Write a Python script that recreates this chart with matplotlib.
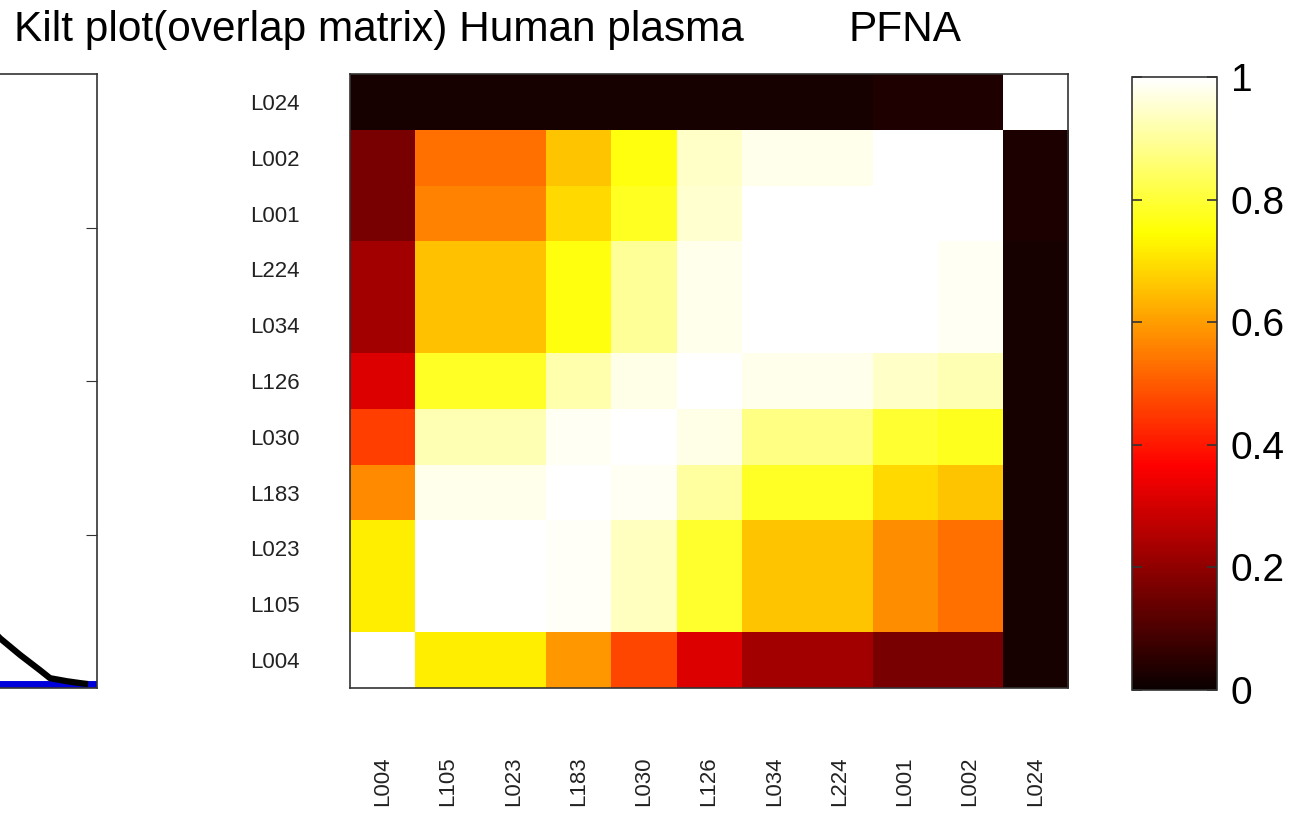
import numpy as np
import matplotlib
matplotlib.use("Agg")
import matplotlib.pyplot as plt

# ---------------- data ----------------
x_labels = ["L004", "L105", "L023", "L183", "L030", "L126", "L034", "L224", "L001", "L002", "L024"]
y_labels = ["L024", "L002", "L001", "L224", "L034", "L126", "L030", "L183", "L023", "L105", "L004"]  # top -> bottom

row_L024 = [0.02, 0.02, 0.02, 0.02, 0.02, 0.02, 0.02, 0.02, 0.035, 0.035, 1.00]
row_L002 = [0.165, 0.535, 0.535, 0.66, 0.76, 0.945, 0.98, 0.98, 1.00, 1.00, 0.03]
row_L001 = [0.165, 0.56, 0.56, 0.69, 0.78, 0.95, 1.00, 1.00, 1.00, 1.00, 0.03]
row_L224 = [0.23, 0.655, 0.655, 0.76, 0.895, 0.98, 1.00, 1.00, 1.00, 0.985, 0.02]
row_L034 = [0.23, 0.655, 0.655, 0.76, 0.895, 0.98, 1.00, 1.00, 1.00, 0.985, 0.02]
row_L126 = [0.315, 0.785, 0.785, 0.915, 0.975, 1.00, 0.98, 0.98, 0.945, 0.925, 0.02]
row_L030 = [0.46, 0.925, 0.925, 0.985, 1.00, 0.975, 0.876, 0.876, 0.795, 0.776, 0.02]
row_L183 = [0.574, 0.98, 0.98, 1.00, 0.985, 0.905, 0.785, 0.785, 0.69, 0.66, 0.02]
row_L023 = [0.72, 1.00, 1.00, 0.99, 0.935, 0.79, 0.66, 0.66, 0.575, 0.535, 0.02]
row_L105 = [0.72, 1.00, 1.00, 0.99, 0.935, 0.79, 0.66, 0.66, 0.575, 0.535, 0.02]
row_L004 = [1.00, 0.72, 0.72, 0.59, 0.47, 0.315, 0.23, 0.23, 0.165, 0.165, 0.02]

matrix = np.array([row_L024, row_L002, row_L001, row_L224, row_L034, row_L126,
                   row_L030, row_L183, row_L023, row_L105, row_L004])

cbar_ticks = [0, 0.2, 0.4, 0.6, 0.8, 1.0]
cbar_ticklabels = ["0", "0.2", "0.4", "0.6", "0.8", "1"]

# partial neighbouring panel (only its right tail is visible)
tail_x = [70, 75.75, 80.75, 85.75, 88.25, 92.5, 95.75, 97.0]
tail_y = [0.12, 0.081, 0.054, 0.029, 0.016, 0.011, 0.008, 0.007]
base_x = [0, 100]
base_y = [0.006, 0.006]
left_yticks = [0.25, 0.5, 0.75]

title_main = "Kilt plot(overlap matrix) Human plasma"
title_compound = "PFNA"

# ---------------- figure ----------------
W, H = 1309, 821
plt.rcParams["font.family"] = ["Liberation Sans", "DejaVu Sans"]
fig = plt.figure(figsize=(W / 100, H / 100), dpi=100)

def px_axes(l, t, r, b):
    return fig.add_axes([l / W, 1 - b / H, (r - l) / W, (b - t) / H])

# left partial panel
axl = px_axes(-303, 74, 97, 688)
axl.plot(base_x, base_y, color="#0000dd", lw=5, solid_capstyle="butt", zorder=2)
axl.plot(tail_x, tail_y, color="black", lw=4.5, zorder=3)
axl.set_xlim(0, 100)
axl.set_ylim(0, 1)
axl.set_yticks(left_yticks)
axl.set_xticks([])
axl.tick_params(axis="y", direction="in", left=True, right=True, length=8, labelleft=False,
                color="#333333")
for s in axl.spines.values():
    s.set_color("#333333")
    s.set_linewidth(1.2)

# heatmap
ax = px_axes(350, 74, 1068, 688)
im = ax.imshow(matrix, cmap="hot", vmin=0, vmax=1, aspect="auto", interpolation="nearest")
ax.set_xticks(range(len(x_labels)))
ax.set_xticklabels(x_labels, rotation=90, fontsize=16, color="#222222", va="top")
ax.set_yticks(range(len(y_labels)))
ax.set_yticklabels(y_labels, fontsize=16, color="#222222")
ax.tick_params(axis="both", length=0)
ax.tick_params(axis="y", pad=36)
ax.tick_params(axis="x", pad=49)
for s in ax.spines.values():
    s.set_color("#333333")
    s.set_linewidth(1.2)

# colorbar
cax = px_axes(1132, 77, 1217, 690)
cb = fig.colorbar(im, cax=cax)
cb.set_ticks(cbar_ticks)
cb.set_ticklabels(cbar_ticklabels)
cax.tick_params(direction="in", left=True, right=True, length=7, width=1.2,
                labelsize=28, pad=10, color="#333333")
cb.outline.set_edgecolor("#333333")
cb.outline.set_linewidth(1.2)

fig.text(14 / W, 1 - 41 / H, title_main, fontsize=30.5, ha="left", va="baseline", color="black")
fig.text(849 / W, 1 - 41 / H, title_compound, fontsize=30.5, ha="left", va="baseline", color="black")

fig.savefig("out.png", dpi=100)
